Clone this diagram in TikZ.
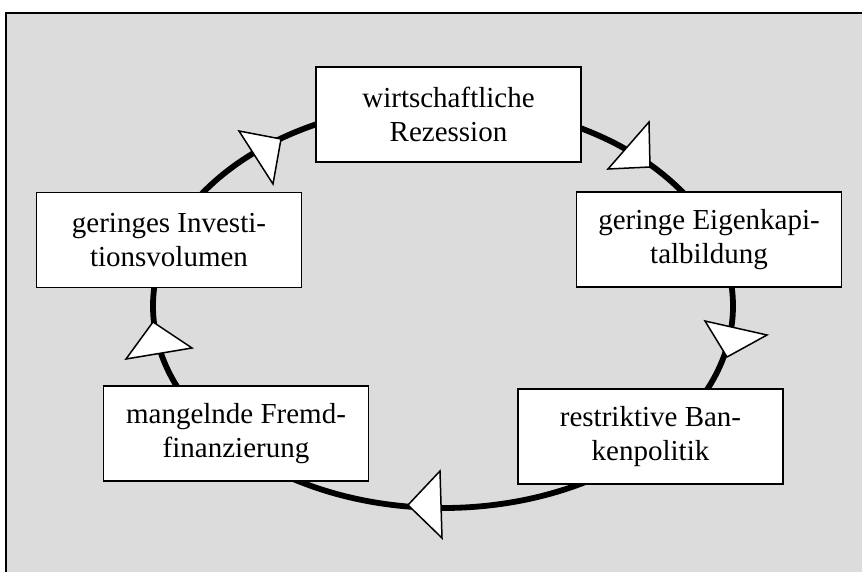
\documentclass[tikz,border=0pt]{standalone}
\usepackage{fontspec}
\setmainfont{Liberation Serif}
\begin{document}
\begin{tikzpicture}[x=1pt,y=-1pt,
  box/.style={draw=black,line width=1.6pt,fill=white,minimum width=265pt,minimum height=95pt,align=center,inner sep=0pt,font=\fontsize{29}{34}\selectfont},
  cyc/.style={draw=black,line width=5.8pt},
  head/.style={draw=black,line width=1.5pt,fill=white,line join=miter}]
\useasboundingbox (0,0) rectangle (862,571);
\fill[white] (0,0) rectangle (862,571);
\draw[fill={rgb,255:red,220;green,220;blue,220},draw=black,line width=1.6pt] (6,13) rectangle (880,590);
\draw[cyc] (443,306) ellipse [x radius=290, y radius=202];
\node[box] (a) at (448.5,114.5) {wirtschaftliche\\Rezession};
\node[box] (b) at (709,239.5) {geringe Eigenkapi-\\talbildung};
\node[box] (c) at (650.5,436.5) {restriktive Ban-\\kenpolitik};
\node[box] (d) at (236,433.5) {mangelnde Fremd-\\finanzierung};
\node[box] (e) at (169,240) {geringes Investi-\\tionsvolumen};
% arrow heads (tip first)
\coordinate (t1) at (281,139); \coordinate (t1a) at (239,131); \coordinate (t1b) at (273,184);
\coordinate (t2) at (650,167); \coordinate (t2a) at (608,169); \coordinate (t2b) at (649,122);
\coordinate (t3) at (727,357); \coordinate (t3a) at (705,321); \coordinate (t3b) at (767,335);
\coordinate (t4) at (408,505); \coordinate (t4a) at (440,471); \coordinate (t4b) at (442,538);
\coordinate (t5) at (153,322); \coordinate (t5a) at (126,359); \coordinate (t5b) at (192,348);
\foreach \i in {1,...,5} {\draw[head] (t\i) -- (t\i a) -- (t\i b) -- cycle;}
\end{tikzpicture}
\end{document}
